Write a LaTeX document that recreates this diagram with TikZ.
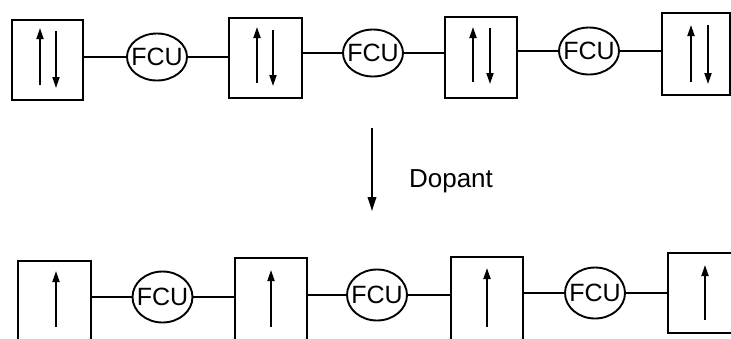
\documentclass[tikz,border=0pt]{standalone}
\usepackage{fontspec}
\setmainfont{Liberation Sans}
\usetikzlibrary{arrows.meta,shapes.geometric}
\begin{document}
\begin{tikzpicture}[x=1pt,y=-1pt,
  cell/.style={draw,line width=1.9pt,minimum width=#1,inner sep=0pt},
  fcu/.style={draw,ellipse,line width=1.9pt,minimum width=60pt,minimum height=47pt,inner sep=0pt,
    label={[font=\fontsize{25}{25}\selectfont,inner sep=0pt]center:FCU}},
  link/.style={line width=2.8pt},
  spin/.style={line width=1.8pt,-{Triangle[length=11pt,width=7pt]}},
  bigarrow/.style={line width=1.8pt,-{Triangle[length=14pt,width=8.5pt]}}]
\useasboundingbox (0,0) rectangle (731,338);
\clip (0,0) rectangle (731,338);
% top row
\node[cell=71pt,minimum height=80pt] (t1) at (47.5,60) {};
\node[fcu] (f1) at (157,57) {};
\node[cell=73pt,minimum height=80pt] (t2) at (265.5,58) {};
\node[fcu] (f2) at (373,53) {};
\node[cell=72pt,minimum height=81pt] (t3) at (481,57.5) {};
\node[fcu] (f3) at (589,51) {};
\node[cell=68pt,minimum height=82pt] (t4) at (696,54) {};
\draw[link] (f1.west) -- (f1.west -| t1.east);
\draw[link] (f1.east) -- (f1.east -| t2.west);
\draw[link] (f2.west) -- (f2.west -| t2.east);
\draw[link] (f2.east) -- (f2.east -| t3.west);
\draw[link] (f3.west) -- (f3.west -| t3.east);
\draw[link] (f3.east) -- (f3.east -| t4.west);
\draw[spin] (40,85) -- (40,28);
\draw[spin] (56,31) -- (56,88);
\draw[spin] (257,83) -- (257,27);
\draw[spin] (273,30) -- (273,86);
\draw[spin] (473,82) -- (473,27);
\draw[spin] (490,28) -- (490,84);
\draw[spin] (691,82) -- (691,25);
\draw[spin] (708,25) -- (708,84);
% middle
\coordinate (ms) at (372,128);
\coordinate (me) at (372,211);
\draw[bigarrow] (ms) -- (me);
\node[font=\fontsize{26}{26}\selectfont] (dop) at (451,181) {Dopant};
% bottom row
\node[cell=73pt,minimum height=100pt] (b1) at (54.5,311) {};
\node[fcu,minimum height=51pt] (g1) at (162.5,297) {};
\node[cell=72pt,minimum height=100pt] (b2) at (271,308) {};
\node[fcu,minimum height=51pt] (g2) at (377,295) {};
\node[cell=72pt,minimum height=100pt] (b3) at (487,307) {};
\node[fcu,minimum height=51pt] (g3) at (595,293) {};
\node[cell=84pt,minimum height=80pt] (b4) at (710,293) {};
\draw[link] (g1.west) -- (g1.west -| b1.east);
\draw[link] (g1.east) -- (g1.east -| b2.west);
\draw[link] (g2.west) -- (g2.west -| b2.east);
\draw[link] (g2.east) -- (g2.east -| b3.west);
\draw[link] (g3.west) -- (g3.west -| b3.east);
\draw[link] (g3.east) -- (g3.east -| b4.west);
\draw[spin] (56,327) -- (56,271);
\draw[spin] (271,327) -- (271,270);
\draw[spin] (487,327) -- (487,268);
\draw[spin] (705,320) -- (705,265);
\end{tikzpicture}
\end{document}
